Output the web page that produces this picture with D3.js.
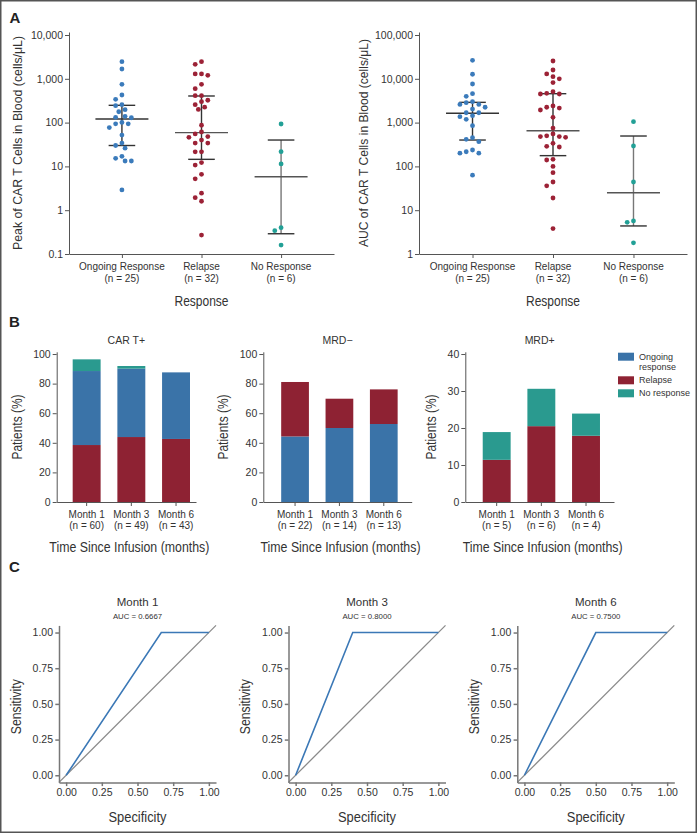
<!DOCTYPE html>
<html><head><meta charset="utf-8">
<script src="https://cdn.jsdelivr.net/npm/d3@7"></script>
<style>
body{margin:0;background:#fff}
svg{display:block}
text{font-family:"Liberation Sans",Arial,Helvetica,sans-serif;fill:#333}
.lbl{font-weight:bold;font-size:15px;fill:#222}
</style></head><body><svg id="c" width="697" height="834"></svg>
<script>
// ---------- DATA ----------
const responseGroups = ["Ongoing Response", "Relapse", "No Response"];
const groupN = ["(n = 25)", "(n = 32)", "(n = 6)"];

const peakOngoing = [2460, 1675, 748, 427, 340, 256, 243, 197, 177, 139, 132, 129, 101, 94, 94, 77, 52, 34, 30, 26, 17, 15.3, 13.3, 13.3, 2.9];
const peakRelapse = [2460, 2140, 1290, 1290, 1200, 748, 594, 411, 411, 324, 300, 256, 225, 200, 87, 61, 55, 48, 46, 40, 34, 34, 21.5, 21.5, 12.2, 10.7, 6.6, 5.2, 2.45, 1.93, 1.6, 0.27];
const peakNoResponse = [93, 21.7, 11.4, 0.40, 0.34, 0.16];
// [lower, median, upper]
const peakSummary = [[30, 121, 248], [14.5, 59, 405], [0.29, 5.8, 40]];
const peakTicks = [0.1, 1, 10, 100, 1000, 10000];

const aucOngoing = [26400, 12700, 7600, 4570, 3980, 3000, 2850, 2600, 2600, 2240, 2040, 1680, 1680, 1440, 1365, 1190, 850, 452, 415, 367, 237, 216, 200, 200, 63];
const aucRelapse = [25500, 15900, 12900, 11200, 10000, 8200, 5080, 4660, 4500, 4500, 2400, 2240, 2150, 1940, 1320, 750, 550, 500, 480, 480, 460, 336, 288, 277, 145, 140, 100, 72, 44, 36, 19, 3.8];
const aucNoResponse = [1050, 292, 44, 5.7, 5.3, 1.8];
const aucSummary = [[400, 1630, 2900], [176, 650, 4570], [4.37, 25, 494]];
const aucTicks = [1, 10, 100, 1000, 10000, 100000];

const months = ["Month 1", "Month 3", "Month 6"];
const cartN = ["(n = 60)", "(n = 49)", "(n = 43)"];
const cartRelapse = [38.5, 43.9, 42.6];
const cartOngoing = [50.0, 46.2, 45.0];
const cartNoResp = [7.9, 1.8, 0];
const mrdNegN = ["(n = 22)", "(n = 14)", "(n = 13)"];
const mrdNegOngoing = [44.3, 50.0, 52.7];
const mrdNegRelapse = [36.8, 19.8, 23.4];
const mrdPosN = ["(n = 5)", "(n = 6)", "(n = 4)"];
const mrdPosRelapse = [11.4, 20.5, 17.9];
const mrdPosNoResp = [7.5, 10.1, 6.0];
const pctTicks100 = [0, 20, 40, 60, 80, 100];
const pctTicks40 = [0, 10, 20, 30, 40];
const legendKeys = ["ongoing", "relapse", "noresp"];
const legendLabels = [["Ongoing", "response"], ["Relapse"], ["No response"]];

const rocTitles = ["Month 1", "Month 3", "Month 6"];
const rocAuc = ["AUC = 0.6667", "AUC = 0.8000", "AUC = 0.7500"];
const rocSpec = [[0, 0.6667, 1], [0, 0.4, 1], [0, 0.5, 1]];
const rocSens = [0, 1, 1];
const rocTicks = [0, 0.25, 0.5, 0.75, 1];

// ---------- STYLE ----------
const dotColor = {ongoing: "#3b7bbb", relapse: "#9c2236", noresp: "#22a096"};
const barColor = {ongoing: "#3a73a8", relapse: "#8e2233", noresp: "#2a9a8f"};
const axisCol = "#555";

const svg = d3.select("#c");
svg.append("rect").attr("x", 0.75).attr("y", 0.75).attr("width", 695.5).attr("height", 831.5)
  .attr("fill", "#fff").attr("stroke", "#555").attr("stroke-width", 1.5);

// condensed title text (no condensed font installed: squeeze to measured width)
function condText(g, txt, size, len) {
  return g.append("text").attr("font-size", size).attr("text-anchor", "middle")
    .attr("textLength", len).attr("lengthAdjust", "spacingAndGlyphs").text(txt);
}

function styleAxis(g, col, w) {
  g.select(".domain").attr("stroke", col).attr("stroke-width", w);
  g.selectAll(".tick line").attr("stroke", col).attr("stroke-width", w);
  g.selectAll(".tick text").style("fill", "#333").attr("font-family", null);
}

function swarm(values, yScale, cx, step, minDist) {
  const pts = values.map(v => ({v, y: yScale(v)})).sort((a, b) => a.y - b.y);
  const placed = [];
  pts.forEach(p => {
    for (let k = 0; k < 60; k++) {
      const offs = k === 0 ? [0] : [-k * step, k * step];
      let ok = null;
      for (const o of offs) {
        if (placed.every(q => Math.hypot(q.x - (cx + o), q.y - p.y) >= minDist)) { ok = o; break; }
      }
      if (ok !== null) { p.x = cx + ok; break; }
    }
    placed.push(p);
  });
  return placed;
}

// ---------- PANEL A ----------
function scatterPanel(o) {
  const g = svg.append("g");
  const x = d3.scalePoint().domain(responseGroups).range(o.xr).padding(0.665);
  const y = d3.scaleLog().domain(o.yd).range([254, 32]);
  const gy = g.append("g").attr("transform", `translate(${o.xr[0]},0)`)
    .call(d3.axisLeft(y).tickValues(o.ticks).tickFormat(d3.format(",")).tickSize(4).tickPadding(2).tickSizeOuter(0));
  gy.selectAll("text").attr("font-size", 10.5);
  styleAxis(gy, axisCol, 1);
  const gx = g.append("g").attr("transform", "translate(0,254)")
    .call(d3.axisBottom(x).tickSize(4).tickSizeOuter(0).tickFormat(""));
  styleAxis(gx, axisCol, 1);
  responseGroups.forEach((c, i) => {
    const t = g.append("text").attr("x", x(c)).attr("text-anchor", "middle").attr("font-size", 10);
    t.append("tspan").attr("x", x(c)).attr("y", 270.3).text(c);
    t.append("tspan").attr("x", x(c)).attr("y", 281.5).text(groupN[i]);
  });
  condText(g, "Response", 14.5, 54).attr("x", (o.xr[0] + o.xr[1]) / 2).attr("y", 305.5);
  condText(g, o.ytitle, 13.5, o.ylen).attr("transform", `translate(${o.ytx},143) rotate(-90)`);
  const keys = ["ongoing", "relapse", "noresp"];
  o.data.forEach((vals, i) => {
    const cx = x(responseGroups[i]);
    const s = o.summary[i];
    const lc = "#333";
    g.append("line").attr("x1", cx).attr("x2", cx).attr("y1", y(s[0])).attr("y2", y(s[2]))
      .attr("stroke", i === 2 ? "#777" : lc).attr("stroke-width", 1.4);
    [[s[0], 13.3], [s[2], 13.3], [s[1], 26.5]].forEach(([v, hw], j) => {
      g.append("line").attr("x1", cx - hw).attr("x2", cx + hw).attr("y1", y(v)).attr("y2", y(v))
        .attr("stroke", j === 2 && i > 0 ? "#555" : lc).attr("stroke-width", 1.4);
    });
    const pts = swarm(vals, y, cx, 3.15, 5.6);
    g.selectAll(null).data(pts).enter().append("circle")
      .attr("cx", d => d.x).attr("cy", d => d.y).attr("r", 2.4).attr("fill", dotColor[keys[i]]);
  });
}
scatterPanel({xr: [69, 334], yd: [0.1, Math.pow(10, 4.0685)], ticks: peakTicks,
  data: [peakOngoing, peakRelapse, peakNoResponse], summary: peakSummary,
  ytitle: "Peak of CAR T Cells in Blood (cells/\u03bcL)", ytx: 21.5, ylen: 214});
scatterPanel({xr: [419, 687], yd: [1, Math.pow(10, 5.0685)], ticks: aucTicks,
  data: [aucOngoing, aucRelapse, aucNoResponse], summary: aucSummary,
  ytitle: "AUC of CAR T Cells in Blood (cells/\u03bcL)", ytx: 367.5, ylen: 208});
svg.append("text").attr("class", "lbl").attr("x", 9.5).attr("y", 22.7).text("A");

// ---------- PANEL B ----------
function barPanel(o) {
  const g = svg.append("g");
  const rows = months.map((m, i) => {
    const r = {month: m};
    o.keys.forEach((k, j) => r[k] = o.series[j][i]);
    return r;
  });
  const x = d3.scaleBand().domain(months).range(o.xr).paddingInner(0.375).paddingOuter(o.po).align(o.align);
  const y = d3.scaleLinear().domain([0, o.ymax * 1.015]).range([502, 351.8]);
  const stack = d3.stack().keys(o.keys)(rows);
  stack.forEach(layer => {
    g.selectAll(null).data(layer).enter().append("rect")
      .attr("x", d => x(d.data.month)).attr("width", x.bandwidth())
      .attr("y", d => y(d[1])).attr("height", d => y(d[0]) - y(d[1]))
      .attr("fill", barColor[layer.key]);
  });
  const gy = g.append("g").attr("transform", `translate(${o.xr[0]},0)`)
    .call(d3.axisLeft(y).tickValues(o.ticks).tickSize(4).tickPadding(2).tickSizeOuter(0));
  gy.selectAll("text").attr("font-size", 10.5);
  styleAxis(gy, axisCol, 1);
  const gx = g.append("g").attr("transform", "translate(0,502)")
    .call(d3.axisBottom(x).tickSize(4).tickSizeOuter(0).tickFormat(""));
  styleAxis(gx, axisCol, 1);
  months.forEach((m, i) => {
    const cx = x(m) + x.bandwidth() / 2;
    const t = g.append("text").attr("text-anchor", "middle").attr("font-size", 10);
    t.append("tspan").attr("x", cx).attr("y", 517.5).text(m);
    t.append("tspan").attr("x", cx).attr("y", 529).text(o.nlab[i]);
  });
  const mid = (o.xr[0] + o.xr[1]) / 2;
  g.append("text").attr("x", mid).attr("y", 343.5).attr("text-anchor", "middle").attr("font-size", 10.5).text(o.title);
  condText(g, "Time Since Infusion (months)", 14.5, 160).attr("x", mid + 3).attr("y", 551.5);
  condText(g, "Patients (%)", 14, 65).attr("transform", `translate(${o.xr[0] - o.ytoff},427) rotate(-90)`);
}
barPanel({xr: [56.7, 196], po: 0.246, align: 0.727, ymax: 100, ticks: pctTicks100, title: "CAR T+",
  keys: ["relapse", "ongoing", "noresp"], series: [cartRelapse, cartOngoing, cartNoResp], nlab: cartN, ytoff: 35});
barPanel({xr: [263.3, 411.7], po: 0.36, align: 0.56, ymax: 100, ticks: pctTicks100, title: "MRD\u2212",
  keys: ["ongoing", "relapse"], series: [mrdNegOngoing, mrdNegRelapse], nlab: mrdNegN, ytoff: 35});
barPanel({xr: [465.3, 614], po: 0.352, align: 0.554, ymax: 40, ticks: pctTicks40, title: "MRD+",
  keys: ["relapse", "noresp"], series: [mrdPosRelapse, mrdPosNoResp], nlab: mrdPosN, ytoff: 29});
svg.append("text").attr("class", "lbl").attr("x", 9).attr("y", 327.3).text("B");

// legend
const lg = svg.append("g");
const legY = [352.7, 376.3, 389.3];
legendKeys.forEach((k, i) => {
  lg.append("rect").attr("x", 618).attr("y", legY[i]).attr("width", 16).attr("height", 8).attr("fill", barColor[k]);
  legendLabels[i].forEach((l, j) => {
    lg.append("text").attr("x", 639).attr("y", legY[i] + 7 + j * 10.5).attr("font-size", 9).text(l);
  });
});

// ---------- PANEL C ----------
const rocX0 = [59, 288.5, 517.3];
rocTitles.forEach((title, i) => {
  const g = svg.append("g");
  const x = d3.scaleLinear().domain([-0.05, 1.05]).range([rocX0[i], rocX0[i] + 157]);
  const y = d3.scaleLinear().domain([-0.05, 1.05]).range([782.4, 625.4]);
  g.append("line").attr("x1", x(-0.05)).attr("y1", y(-0.05)).attr("x2", x(1.05)).attr("y2", y(1.05))
    .attr("stroke", "#8a8a8a").attr("stroke-width", 1.3);
  const pts = rocSpec[i].map((s, j) => [s, rocSens[j]]);
  g.append("path").attr("d", d3.line().x(d => x(d[0])).y(d => y(d[1]))(pts))
    .attr("fill", "none").attr("stroke", "#3b78b6").attr("stroke-width", 1.6);
  const gy = g.append("g").attr("transform", `translate(${rocX0[i]},0)`)
    .call(d3.axisLeft(y).tickValues(rocTicks).tickFormat(d3.format(".2f")).tickSize(3.7).tickPadding(2.3).tickSizeOuter(0));
  gy.selectAll("text").attr("font-size", 10.5);
  styleAxis(gy, "#777", 1.5);
  const gx = g.append("g").attr("transform", "translate(0,782.4)")
    .call(d3.axisBottom(x).tickValues(rocTicks).tickFormat(d3.format(".2f")).tickSize(3.7).tickPadding(2.5).tickSizeOuter(0));
  gx.selectAll("text").attr("font-size", 10.5);
  styleAxis(gx, "#777", 1.5);
  const mid = rocX0[i] + 78.5;
  g.append("text").attr("x", mid).attr("y", 605.5).attr("text-anchor", "middle").attr("font-size", 11.5).text(title);
  g.append("text").attr("x", mid).attr("y", 618.7).attr("text-anchor", "middle").attr("font-size", 7.8).text(rocAuc[i]);
  condText(g, "Specificity", 14, 58).attr("x", mid).attr("y", 821.7);
  condText(g, "Sensitivity", 14, 55).attr("transform", `translate(${rocX0[i] - 38.5},706.7) rotate(-90)`);
});
svg.append("text").attr("class", "lbl").attr("x", 9).attr("y", 572.3).text("C");
</script></body></html>
